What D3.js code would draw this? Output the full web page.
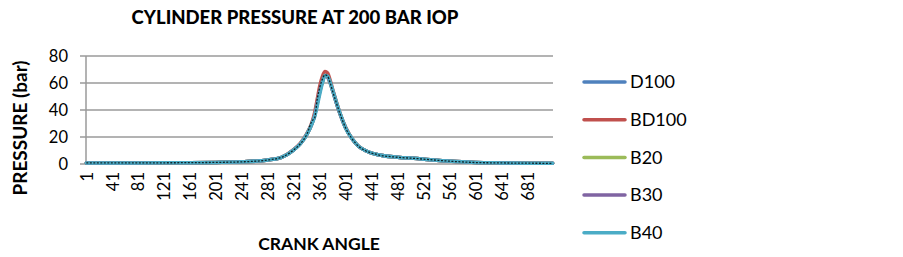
<!DOCTYPE html>
<html>
<head>
<meta charset="utf-8">
<style>
body { margin: 0; background: #fff; }
text { font-family: Lato, "Open Sans", sans-serif; fill: #000; }
.grid line { stroke: #9a9a9a; stroke-width: 1.5; }
.pathline { fill: none; stroke-width: 3.5; stroke-linejoin: round; stroke-linecap: round; }
</style>
<script src="https://d3js.org/d3.v7.min.js"></script>
</head>
<body>
<script>
// crank angle categories 1..720, labels every 40
var categoryCount = 720;
var tickLabels = [1, 41, 81, 121, 161, 201, 241, 281, 321, 361, 401, 441, 481, 521, 561, 601, 641, 681];
var yTicks = [0, 20, 40, 60, 80];

// readings at these crank angles
var angles = [1, 41, 81, 121, 161, 201, 241, 281, 301, 321, 331, 341, 349, 353, 357, 361, 365, 369, 373, 377, 381, 386, 393, 401, 411, 421, 431, 451, 481, 511, 541, 571, 601, 641, 681, 720];

var d100  = [0.8, 0.8, 0.8, 0.9, 1.0, 1.2, 1.6, 3.0, 4.8, 10.5, 15, 22, 30, 36, 45, 54, 61, 65.5, 64.5, 60, 54, 46, 36, 26.5, 18.5, 13, 10, 6.8, 5, 4, 2.8, 1.8, 1.1, 0.8, 0.6, 0.5];
var bd100 = [0.8, 0.8, 0.8, 0.9, 1.0, 1.2, 1.6, 3.0, 4.8, 10.8, 15.5, 22.5, 31, 38, 48, 58, 65, 68.5, 67.5, 62, 55, 47, 36.5, 27, 18.5, 13, 10, 6.8, 5, 4, 2.8, 1.8, 1.1, 0.8, 0.6, 0.5];
var b20   = [0.8, 0.8, 0.8, 0.9, 1.0, 1.2, 1.6, 3.0, 4.8, 10.5, 15, 22, 30, 36, 45, 54, 61, 65.5, 64.5, 60, 54, 46, 36, 26.5, 18.5, 13, 10, 6.8, 5, 4, 2.8, 1.8, 1.1, 0.8, 0.6, 0.5];
var b30   = [0.8, 0.8, 0.8, 0.9, 1.0, 1.2, 1.6, 3.0, 4.8, 10.5, 15, 22, 30, 36, 45, 54, 61, 65.5, 64.5, 60, 54, 46, 36, 26.5, 18.5, 13, 10, 6.8, 5, 4, 2.8, 1.8, 1.1, 0.8, 0.6, 0.5];
var b40   = [0.8, 0.8, 0.8, 0.9, 1.0, 1.2, 1.6, 3.0, 4.8, 10.5, 15, 22, 30, 35, 43, 52, 60, 65.5, 65, 60.5, 54.5, 46.5, 36.5, 26.5, 18.5, 13, 10, 6.8, 5, 4, 2.8, 1.8, 1.1, 0.8, 0.6, 0.5];
// thin black trace seen on top of the curves (no legend entry)
var trace = [0.8, 0.8, 0.8, 0.9, 1.0, 1.2, 1.6, 3.0, 4.8, 10.5, 15, 22, 32, 34, 48, 57, 63, 66, 65, 60, 53.5, 46, 36, 26.5, 18.5, 13, 10, 6.8, 5, 4, 2.8, 1.8, 1.1, 0.8, 0.6, 0.5];

var seriesNames = ["D100", "BD100", "B20", "B30", "B40"];
var seriesColors = ["#4F81BD", "#C0504D", "#9BBB59", "#8064A2", "#4BACC6"];
var seriesValues = [d100, bd100, b20, b30, b40];

function drawChart() {
	var width = 903, height = 257;
	var plotLeft = 86, plotRight = 553, plotTop = 56, plotBottom = 164;

	var svg = d3.select("body").append("svg").attr("width", width).attr("height", height);

	// categories sit in the middle of their slot
	var x = d3.scaleLinear().domain([0.5, categoryCount + 0.5]).range([plotLeft, plotRight]);
	var y = d3.scaleLinear().domain([0, 80]).range([plotBottom, plotTop]);

	svg.append("g").attr("class", "grid").selectAll("line").data(yTicks).enter().append("line")
		.attr("x1", plotLeft - 6).attr("x2", plotRight)
		.attr("y1", function(d){ return y(d); }).attr("y2", function(d){ return y(d); });

	svg.append("line").attr("x1", plotLeft).attr("x2", plotLeft).attr("y1", y(80)).attr("y2", y(0))
		.attr("stroke", "#9a9a9a").attr("stroke-width", 1.5);

	var yAxis = d3.axisLeft(y).tickValues(yTicks).tickSize(0).tickPadding(18);
	var ya = svg.append("g").attr("transform", "translate(" + plotLeft + ",0)").call(yAxis);
	ya.select(".domain").remove();
	ya.selectAll("text").style("font-family", "Lato, sans-serif").style("font-size", "16.5px").attr("fill", "#000");

	var xAxis = d3.axisBottom(x).tickValues(tickLabels).tickSize(0).tickFormat(d3.format("d"));
	var xa = svg.append("g").attr("transform", "translate(0," + plotBottom + ")").call(xAxis);
	xa.select(".domain").remove();
	xa.selectAll("text")
		.style("font-family", "Lato, sans-serif").style("font-size", "16.5px").attr("fill", "#000")
		.attr("text-anchor", "end")
		.attr("transform", "rotate(-90)")
		.attr("x", -8).attr("y", 0).attr("dy", "0.35em");

	function lineFor(vals) {
		return d3.line()
			.x(function(d, i){ return x(angles[i]); })
			.y(function(d){ return y(d); })
			.curve(d3.curveMonotoneX)(vals);
	}

	seriesValues.forEach(function(vals, k) {
		svg.append("path").attr("class", "pathline")
			.attr("stroke", seriesColors[k])
			.attr("d", lineFor(vals));
	});

	svg.append("path").attr("fill", "none").attr("stroke", "#000").attr("stroke-width", 1.3)
		.attr("stroke-dasharray", "2,1.5").attr("opacity", 0.8)
		.attr("d", lineFor(trace));

	// titles
	svg.append("text").attr("x", 295).attr("y", 24).attr("text-anchor", "middle")
		.style("font-size", "18.5px").style("font-weight", "900").text("CYLINDER PRESSURE AT 200 BAR IOP");
	svg.append("text").attr("x", 319).attr("y", 250).attr("text-anchor", "middle")
		.style("font-size", "17.5px").style("font-weight", "bold").text("CRANK ANGLE");
	svg.append("text").attr("transform", "translate(27,128) rotate(-90)").attr("text-anchor", "middle")
		.style("font-size", "19px").style("font-weight", "bold").text("PRESSURE (bar)");

	// legend
	var legend = svg.append("g").selectAll("g").data(seriesNames).enter().append("g")
		.attr("transform", function(d, i){ return "translate(583," + (82 + i * 37.7) + ")"; });
	legend.append("line").attr("x1", 1).attr("x2", 42).attr("y1", 0).attr("y2", 0)
		.attr("stroke", function(d, i){ return seriesColors[i]; })
		.attr("stroke-width", 3.5).attr("stroke-linecap", "round");
	legend.append("text").attr("x", 47).attr("y", 0).attr("dy", "0.35em")
		.style("font-size", "18px").text(function(d){ return d; });
}
drawChart();
</script>
</body>
</html>
